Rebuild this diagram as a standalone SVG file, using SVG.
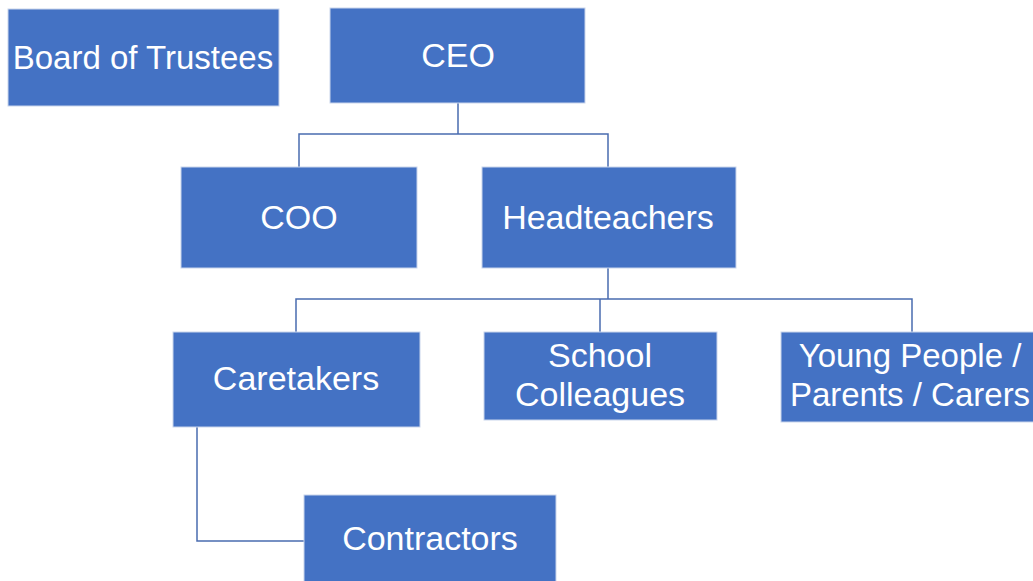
<svg xmlns="http://www.w3.org/2000/svg" width="1033" height="581" viewBox="0 0 1033 581">
<style>
.box{fill:#4472C4;stroke:#C9D5EC;stroke-width:1}
.t{fill:#FFFFFF;font-family:"Liberation Sans",Arial,sans-serif;font-size:34px;text-anchor:middle}
.s{font-size:33px}
.c{fill:none;stroke:#4A6CB0;stroke-width:1.5}
</style>
<rect width="1033" height="581" fill="#FFFFFF"/>
<g id="connectors">
<path class="c" d="M458 103 V134 M299 167 V134 H608 V167"/>
<path class="c" d="M608 268 V299 M296 332 V299 H912 V332 M600 299 V332"/>
<path class="c" d="M197 427 V541 H304"/>
</g>
<g id="board"><rect class="box" x="8" y="9" width="271" height="97"/><text class="t s" x="143" y="69">Board of Trustees</text></g>
<g id="ceo"><rect class="box" x="330" y="8" width="255" height="95"/><text class="t" x="458" y="67">CEO</text></g>
<g id="coo"><rect class="box" x="181" y="167" width="236" height="101"/><text class="t" x="299" y="229">COO</text></g>
<g id="headteachers"><rect class="box" x="482" y="167" width="254" height="101"/><text class="t" x="608" y="229">Headteachers</text></g>
<g id="caretakers"><rect class="box" x="173" y="332" width="247" height="95"/><text class="t" x="296" y="390">Caretakers</text></g>
<g id="school"><rect class="box" x="484" y="332" width="233" height="88"/><text class="t" x="600" y="367">School</text><text class="t" x="600" y="406">Colleagues</text></g>
<g id="young"><rect class="box" x="781" y="332" width="260" height="90"/><text class="t s" x="910" y="367">Young People /</text><text class="t s" x="910" y="406">Parents / Carers</text></g>
<g id="contractors"><rect class="box" x="304" y="495" width="252" height="90"/><text class="t" x="430" y="550">Contractors</text></g>
</svg>
